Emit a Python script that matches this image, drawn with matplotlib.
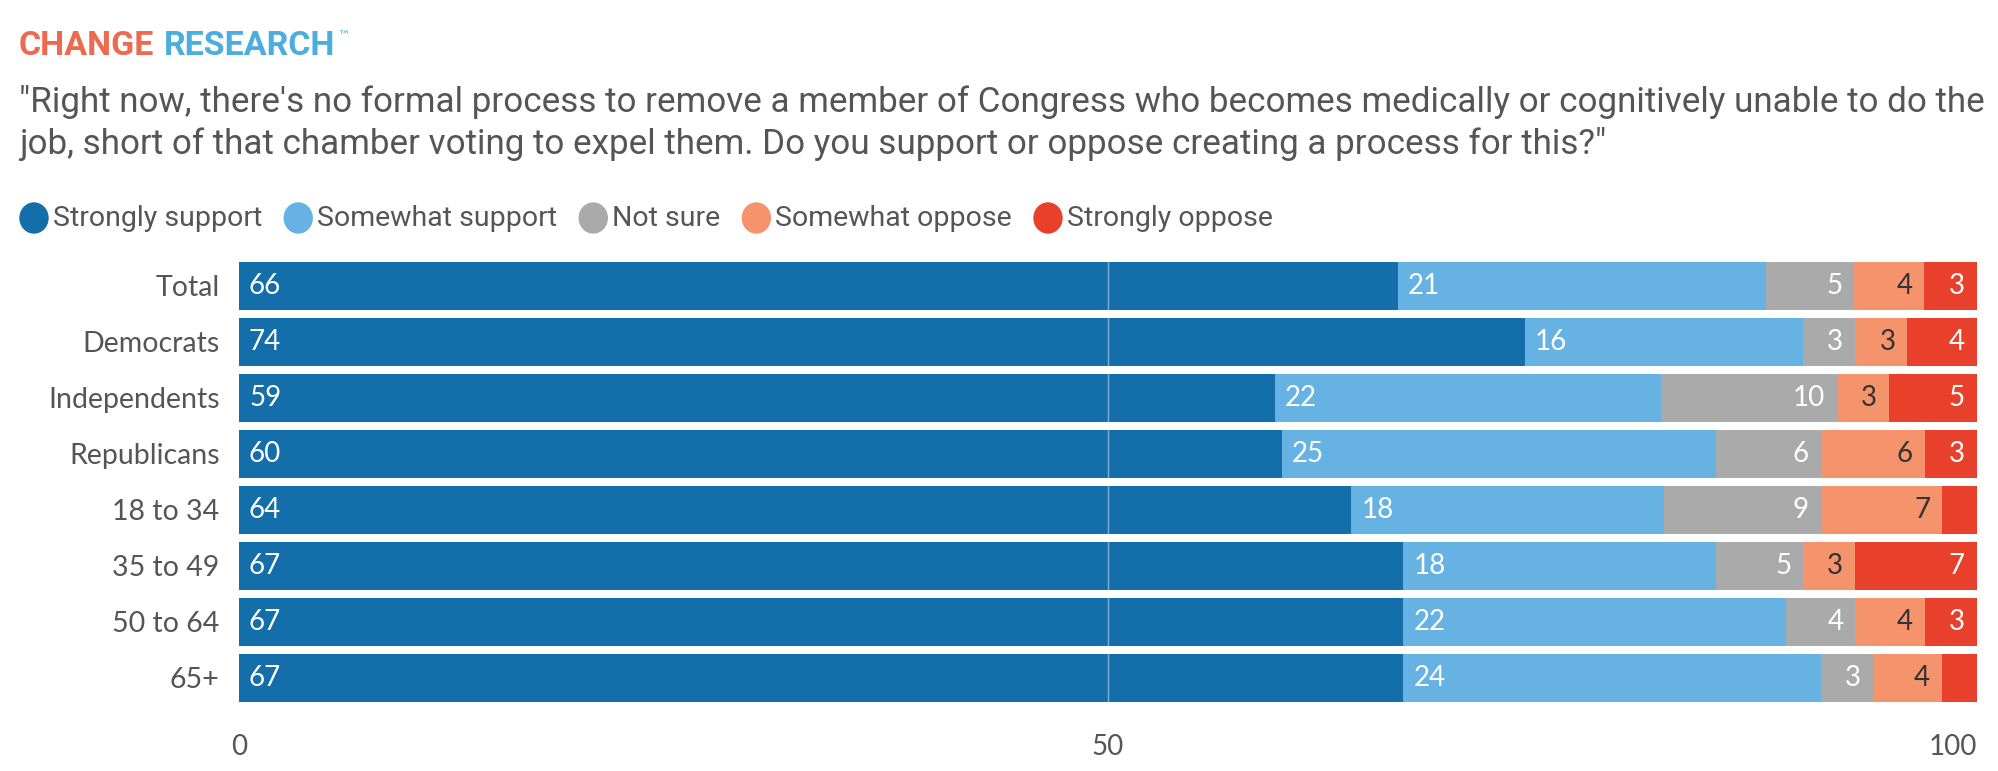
import matplotlib
matplotlib.use("Agg")
import matplotlib.pyplot as plt
from matplotlib import font_manager
from matplotlib.transforms import offset_copy
import numpy as np

# data
groups = ["Total", "Democrats", "Independents", "Republicans",
          "18 to 34", "35 to 49", "50 to 64", "65+"]
series = ["Strongly support", "Somewhat support", "Not sure",
          "Somewhat oppose", "Strongly oppose"]
strongly_support = [66, 74, 59, 60, 64, 67, 67, 67]
somewhat_support = [21, 16, 22, 25, 18, 18, 22, 24]
not_sure = [5, 3, 10, 6, 9, 5, 4, 3]
somewhat_oppose = [4, 3, 3, 6, 7, 3, 4, 4]
strongly_oppose = [3, 4, 5, 3, 2, 7, 3, 2]
colors = ["#136eaa", "#66b3e3", "#aaaaaa", "#f4936c", "#e8402a"]
label_colors = ["white", "white", "white", "#333333", "white"]
x_ticks = [0, 50, 100]

names = {f.name for f in font_manager.fontManager.ttflist}
narrow = "Liberation Sans Narrow" if "Liberation Sans Narrow" in names else "Roboto"
body = "Lato"

W, H = 1999, 771
fig = plt.figure(figsize=(W / 100, H / 100), dpi=100)

def fx(px):
    return px / W

def fy(py):
    return 1 - py / H

# header
t1 = fig.text(fx(19), fy(46), "CHANGE", color="#ee6a4f", fontsize=24.5,
              fontweight="bold", family=narrow, va="center", ha="left")
fig.canvas.draw()
bb = t1.get_window_extent(fig.canvas.get_renderer())
t2 = fig.text(bb.x1 / W + fx(9), fy(46), "RESEARCH", color="#4baede", fontsize=24.5,
              fontweight="bold", family=narrow, va="center", ha="left")
fig.canvas.draw()
bb = t2.get_window_extent(fig.canvas.get_renderer())
fig.text(bb.x1 / W + fx(2), fy(37), "™", color="#4baede", fontsize=9,
         family="DejaVu Sans", va="center", ha="left")
fig.text(fx(19), fy(123),
         "\"Right now, there's no formal process to remove a member of Congress who becomes medically or cognitively unable to do the\n"
         "job, short of that chamber voting to expel them. Do you support or oppose creating a process for this?\"",
         color="#555555", fontsize=25.2, family=narrow, va="center", ha="left",
         linespacing=1.3)

# legend
lx = 34
for name, c in zip(series, colors):
    fig.patches.append(matplotlib.patches.Ellipse((fx(lx), fy(218)), fx(28), 30 / H,
                                                  color=c, transform=fig.transFigure))
    t = fig.text(fx(lx + 19), fy(218), name, color="#555555", fontsize=20.5,
                 family=narrow, va="center", ha="left")
    fig.canvas.draw()
    lx = t.get_window_extent(fig.canvas.get_renderer()).x1 + 36

# bars
ax = fig.add_axes([fx(239), fy(706), fx(1977) - fx(239), (706 - 258) / H])
data = np.array([strongly_support, somewhat_support, not_sure,
                 somewhat_oppose, strongly_oppose], dtype=float)
shares = data / data.sum(axis=0) * 100
y = np.arange(len(groups))
left = np.zeros(len(groups))
for i in range(len(series)):
    ax.barh(y, shares[i], left=left, height=0.86, color=colors[i], zorder=2)
    for j in range(len(groups)):
        v = data[i, j]
        if v < 3:
            continue
        if i < 2:
            ax.annotate(f"{v:.0f}", (left[j], y[j]), xytext=(10, 0),
                        textcoords="offset pixels", ha="left", va="center",
                        color=label_colors[i], fontsize=20, family=body)
        else:
            ax.annotate(f"{v:.0f}", (left[j] + shares[i, j], y[j]), xytext=(-12, 0),
                        textcoords="offset pixels", ha="right", va="center",
                        color=label_colors[i], fontsize=20, family=body)
    left += shares[i]

ax.axvline(50, color="white", alpha=0.45, lw=1, zorder=3)
ax.set_xlim(0, 100)
ax.set_ylim(len(groups) - 0.5, -0.5)
ax.set_yticks(y)
ax.set_yticklabels(groups, fontsize=20.5, family=body, color="#555555")
ax.set_xticks(x_ticks)
ax.set_xticklabels([str(v) for v in x_ticks], fontsize=20, family=body, color="#555555")
last = ax.get_xticklabels()[-1]
last.set_ha("right")
last.set_transform(offset_copy(last.get_transform(), fig=fig, x=-14, units="dots"))
ax.tick_params(axis="y", length=0, pad=14)
ax.tick_params(axis="x", length=0, pad=20)
for s in ax.spines.values():
    s.set_visible(False)

fig.savefig("out.png", dpi=100)
